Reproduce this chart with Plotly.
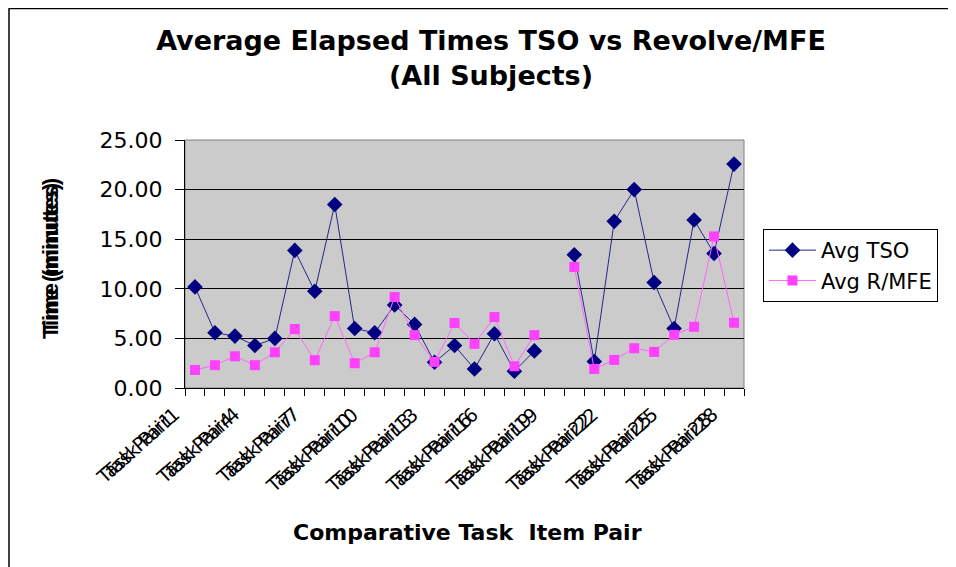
import plotly.graph_objects as go

categories = [f"Task Pair{i}" for i in range(1, 29)]
avg_tso = [10.19, 5.57, 5.23, 4.28, 5.00, 13.87, 9.75, 18.50, 6.00, 5.57,
           8.37, 6.41, 2.60, 4.28, 1.92, 5.47, 1.69, 3.74, None, 13.43,
           2.67, 16.80, 20.00, 10.63, 6.00, 16.94, 13.56, 22.57]
avg_rmfe = [1.82, 2.30, 3.20, 2.30, 3.60, 5.94, 2.80, 7.25, 2.50, 3.60,
            9.17, 5.33, 2.63, 6.55, 4.45, 7.15, 2.19, 5.33, None, 12.20,
            1.92, 2.83, 4.01, 3.64, 5.36, 6.17, 15.28, 6.58]
y_ticks = [0, 5, 10, 15, 20, 25]
grid_vals = [5, 10, 15, 20]
label_text = categories[::3]

FONT = "DejaVu Sans"
OFF = 8  # page body margin
W, H = 956, 567
# plot area in screen px: x 185..744, y 140..388
L, T = 185 - OFF, 140 - OFF
R, B = W - (744 - OFF), H - (388 - OFF)
pw, ph = W - L - R, H - T - B


def px(sx):
    return (sx - OFF - L) / pw


def py(sy):
    return (H - B - (sy - OFF)) / ph


fig = go.Figure()
fig.add_trace(go.Scatter(
    x=categories, y=avg_tso, name="Avg TSO", mode="lines+markers",
    line=dict(color="#23288a", width=1),
    marker=dict(symbol="diamond", size=12, color="#000080"),
    connectgaps=False))
fig.add_trace(go.Scatter(
    x=categories, y=avg_rmfe, name="Avg R/MFE", mode="lines+markers",
    line=dict(color="#ff66ff", width=1),
    marker=dict(symbol="square", size=10, color="#ff40ff"),
    connectgaps=False))

n = len(categories)
fig.update_layout(
    width=W, height=H, autosize=False,
    margin=dict(l=L, r=R, t=T, b=B, pad=0),
    paper_bgcolor="white", plot_bgcolor="#cbcbcb",
    font=dict(family=FONT, color="black", size=20),
    title=dict(text="Average Elapsed Times TSO vs Revolve/MFE<br>(All Subjects)",
               x=(491 - OFF) / W, xanchor="center", xref="container",
               y=1 - 42 / H, yanchor="top",
               font=dict(family=FONT, size=27, color="black", weight="bold")),
    xaxis=dict(type="category", range=[-0.5, n - 0.5], tickmode="array",
               tickvals=categories, showticklabels=False, tickson="boundaries",
               ticks="outside", ticklen=7, tickcolor="black",
               showline=True, linecolor="black", linewidth=1,
               showgrid=False, zeroline=False),
    yaxis=dict(range=[0, 25], tickmode="array", tickvals=y_ticks,
               tickformat=".2f", ticks="outside", ticklen=9, tickcolor="black",
               showline=True, linecolor="black", linewidth=1, showgrid=False,
               zeroline=False, tickfont=dict(family=FONT, size=22, color="black"),
               ticklabelstandoff=8),
    yaxis2=dict(overlaying="y", range=[0, 25], tickmode="array", tickvals=grid_vals,
                showticklabels=False, ticks="", showgrid=True, gridcolor="black",
                gridwidth=1, zeroline=False, showline=False),
    legend=dict(x=px(763), y=py(229),
                xanchor="left", yanchor="top", bordercolor="black", borderwidth=1,
                bgcolor="white", font=dict(family=FONT, size=21, color="black"),
                tracegroupgap=0, itemwidth=47),
    showlegend=True,
)
fig.add_trace(go.Scatter(x=[None], y=[None], yaxis="y2", showlegend=False, hoverinfo="skip"))

# plot-area border (grey top/right)
fig.add_shape(type="rect", xref="paper", yref="paper", x0=0, x1=1, y0=0, y1=1,
              line=dict(color="#808080", width=1), layer="below")
# outer chart frame (left and top edges visible)
fig.add_shape(type="line", xref="paper", yref="paper",
              x0=px(9), x1=px(9), y0=py(8), y1=py(580),
              line=dict(color="black", width=1.5))
fig.add_shape(type="line", xref="paper", yref="paper",
              x0=px(9), x1=px(980), y0=py(8.5), y1=py(8.5),
              line=dict(color="black", width=1.5))

# x tick labels (doubled, as drawn in the reference)
for lab in label_text:
    for xs, ys in ((-15, -17), (-9, -12)):
        fig.add_annotation(text=lab, xref="x", yref="paper", x=lab, y=0,
                           xshift=xs, yshift=ys, textangle=-42, showarrow=False,
                           xanchor="right", yanchor="top",
                           font=dict(family=FONT, size=19, color="black"))

# y-axis title (doubled)
for dy in (0, 5):
    fig.add_annotation(text="Time (minutes)", xref="paper", yref="paper",
                       x=px(50), y=py(261), yshift=dy,
                       textangle=-90, showarrow=False, xanchor="center", yanchor="middle",
                       font=dict(family="Liberation Sans", size=22, color="black", weight="bold"))
# x-axis title
fig.add_annotation(text="Comparative Task  Item Pair", xref="paper", yref="paper",
                   x=px(467), y=py(532), showarrow=False,
                   xanchor="center", yanchor="middle",
                   font=dict(family=FONT, size=22, color="black", weight="bold"))

fig.write_html("out.html")
